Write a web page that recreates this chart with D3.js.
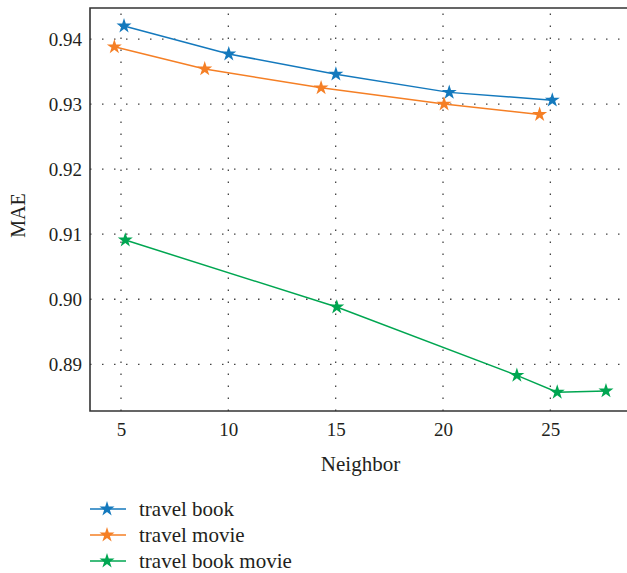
<!DOCTYPE html>
<html>
<head>
<meta charset="utf-8">
<script src="https://cdn.jsdelivr.net/npm/d3@7"></script>
<style>
  body { margin: 0; background: #fff; }
  text { font-family: "Liberation Serif", "DejaVu Serif", serif; fill: #231f20; }
</style>
</head>
<body>
<svg id="chart"></svg>
<script>
// Data
const seriesNames = ["travel book", "travel movie", "travel book movie"];
const seriesColors = ["#1479bd", "#f57f25", "#00a651"];
const bookX = [5.14, 10.02, 15.01, 20.29, 25.09];
const bookY = [0.9420, 0.9377, 0.9346, 0.9318, 0.9306];
const movieX = [4.69, 8.90, 14.32, 20.05, 24.50];
const movieY = [0.9388, 0.9354, 0.9325, 0.9300, 0.9284];
const bothX = [5.20, 15.05, 23.44, 25.32, 27.59];
const bothY = [0.9091, 0.8988, 0.8883, 0.8857, 0.8859];
const xTicks = [5, 10, 15, 20, 25];
const yTicks = [0.89, 0.90, 0.91, 0.92, 0.93, 0.94];

const width = 627, height = 573;
const plotLeft = 90, plotTop = 8, plotRight = 627, plotBottom = 411;

const svg = d3.select("#chart").attr("width", width).attr("height", height);

const x = d3.scaleLinear().domain([3.556, 28.57]).range([plotLeft, plotRight]);
const y = d3.scaleLinear().domain([0.88282, 0.94477]).range([plotBottom, plotTop]);

// Grid lines (dotted)
svg.append("g")
  .selectAll("line")
  .data(xTicks)
  .enter()
  .append("line")
  .attr("x1", d => x(d)).attr("x2", d => x(d))
  .attr("y1", plotBottom).attr("y2", plotTop)
  .attr("stroke", "#444")
  .attr("stroke-width", 1.3)
  .attr("stroke-dasharray", "1.5,10.5");

svg.append("g")
  .selectAll("line")
  .data(yTicks)
  .enter()
  .append("line")
  .attr("x1", plotLeft).attr("x2", plotRight)
  .attr("y1", d => y(d)).attr("y2", d => y(d))
  .attr("stroke", "#444")
  .attr("stroke-width", 1.3)
  .attr("stroke-dasharray", "1.5,10.5");

// Axes
const xAxis = svg.append("g")
  .attr("transform", `translate(0,${plotBottom})`)
  .call(d3.axisBottom(x).tickValues(xTicks).tickSize(0).tickPadding(12).tickFormat(d3.format("d")));
const yAxis = svg.append("g")
  .attr("transform", `translate(${plotLeft},0)`)
  .call(d3.axisLeft(y).tickValues(yTicks).tickSize(0).tickPadding(8).tickFormat(d3.format(".2f")));

[xAxis, yAxis].forEach(a => {
  a.select(".domain").remove();
  a.selectAll("text").attr("font-size", 19).attr("font-family", "Liberation Serif").attr("fill", "#231f20");
});

// Frame (right edge sits at the window border)
svg.append("path")
  .attr("d", `M${plotRight + 2},${plotTop} H${plotLeft} V${plotBottom} H${plotRight + 2}`)
  .attr("fill", "none")
  .attr("stroke", "#333")
  .attr("stroke-width", 1.6);

// Lines and star markers
const series = [
  { name: seriesNames[0], color: seriesColors[0], pts: bookX.map((v, i) => [v, bookY[i]]) },
  { name: seriesNames[1], color: seriesColors[1], pts: movieX.map((v, i) => [v, movieY[i]]) },
  { name: seriesNames[2], color: seriesColors[2], pts: bothX.map((v, i) => [v, bothY[i]]) }
];

const line = d3.line().x(d => x(d[0])).y(d => y(d[1]));
const star = d3.symbol().type(d3.symbolStar).size(70);

series.forEach(s => {
  svg.append("path")
    .attr("d", line(s.pts))
    .attr("fill", "none")
    .attr("stroke", s.color)
    .attr("stroke-width", 1.5);
  svg.append("g")
    .selectAll("path")
    .data(s.pts)
    .enter()
    .append("path")
    .attr("d", star)
    .attr("transform", d => `translate(${x(d[0])},${y(d[1])})`)
    .attr("fill", s.color);
});

// Axis titles
svg.append("text")
  .attr("x", (plotLeft + plotRight) / 2 + 2)
  .attr("y", 471)
  .attr("text-anchor", "middle")
  .attr("font-size", 21)
  .text("Neighbor");

svg.append("text")
  .attr("transform", `translate(25,${(plotTop + plotBottom) / 2 + 6}) rotate(-90)`)
  .attr("text-anchor", "middle")
  .attr("font-size", 20)
  .text("MAE");

// Legend
const legend = svg.selectAll(".legend")
  .data(series)
  .enter()
  .append("g")
  .attr("class", "legend")
  .attr("transform", (d, i) => `translate(90,${509 + i * 26})`);

legend.append("line")
  .attr("x1", 0).attr("x2", 36)
  .attr("stroke", d => d.color)
  .attr("stroke-width", 1.5);
legend.append("path")
  .attr("d", star)
  .attr("transform", "translate(17,0)")
  .attr("fill", d => d.color);
legend.append("text")
  .attr("x", 49)
  .attr("dy", "0.32em")
  .attr("font-size", 21)
  .text(d => d.name);
</script>
</body>
</html>
